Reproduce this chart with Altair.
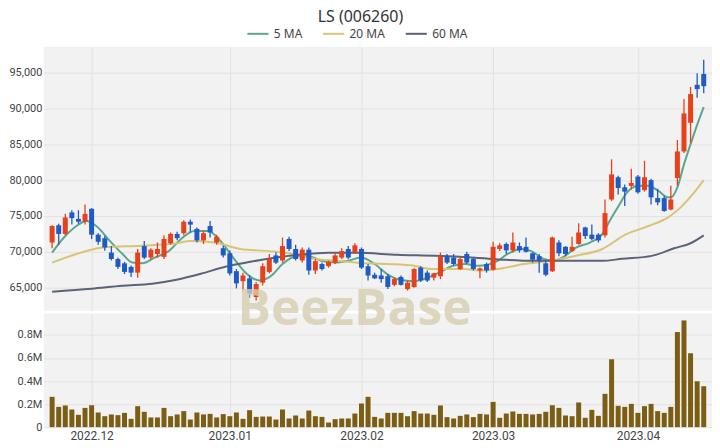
import altair as alt
import pandas as pd

TITLE = "LS (006260)"
WATERMARK = "BeezBase"

month_labels = ["2022.12", "2023.01", "2023.02", "2023.03", "2023.04"]
month_idx = [6, 27, 47, 67, 89]

opens = [71300, 73700, 72500, 75500, 74600, 74200, 76000, 72400, 71900, 69900,
         69000, 68400, 67900, 67100, 70800, 69200, 69700, 69300, 71200, 72500,
         72600, 74200, 73200, 71600, 73600, 71300, 70500, 69800, 67300, 65900,
         66300, 63700, 65700, 67200, 69500, 68800, 71800, 70400, 68800, 70300,
         67400, 68300, 68000, 68500, 69200, 70400, 69900, 70400, 68000, 66800,
         66700, 66600, 65400, 66500, 64800, 65100, 67800, 67100, 66400, 66600,
         69400, 69200, 67600, 69700, 69000, 67400, 68300, 67500, 70400, 71100,
         70200, 70800, 70700, 69800, 69400, 68400, 67300, 71300, 70700, 70100,
         71100, 73400, 72400, 72400, 72300, 77300, 80400, 79000, 79200, 80500,
         78600, 80000, 77500, 77500, 75900, 80300, 84000, 88000, 93300, 94800]
highs = [73700, 73900, 75300, 75800, 75800, 76600, 76100, 72600, 72200, 70800,
         69200, 68600, 68100, 70400, 71500, 70500, 71300, 72300, 72700, 72800,
         74400, 74500, 73400, 72900, 74300, 72400, 70900, 70200, 67600, 67100,
         66700, 65800, 68400, 69700, 69900, 72000, 72100, 71000, 70600, 70600,
         69000, 68500, 68750, 69800, 70500, 70800, 71200, 70600, 68300, 67100,
         67600, 66900, 66400, 66700, 66000, 67700, 68000, 67400, 67100, 69900,
         69700, 69700, 69300, 70000, 69200, 67800, 68500, 71400, 71200, 71300,
         72700, 71300, 72000, 69900, 69700, 68700, 72100, 71600, 70800, 72100,
         74000, 73500, 73800, 72600, 77300, 82900, 80600, 79400, 81600, 80700,
         82700, 80200, 78800, 77800, 79200, 85600, 91300, 93000, 94900, 96800]
lows = [70500, 71000, 72300, 73800, 73900, 73800, 71800, 71000, 70150, 68800,
        67600, 66900, 66500, 66400, 69000, 68900, 69200, 69000, 71000, 71600,
        72300, 72700, 71300, 71100, 72000, 71000, 69200, 66700, 64900, 64600,
        63600, 63200, 65300, 67000, 68300, 68500, 70100, 68800, 68500, 66800,
        66900, 67400, 67800, 68300, 69000, 69000, 69700, 67600, 66000, 66200,
        65700, 64800, 65200, 65300, 64600, 65000, 65800, 65800, 66000, 66200,
        68300, 68100, 67500, 68300, 67400, 66300, 67100, 67400, 70100, 69700,
        69900, 69900, 69900, 68500, 67100, 66600, 67200, 69400, 69400, 70000,
        71000, 71800, 71600, 71300, 72000, 77100, 78000, 76400, 78700, 78100,
        78400, 76600, 76500, 75600, 75800, 79200, 83800, 85200, 91500, 92100]
closes = [73600, 72500, 74800, 74700, 74200, 75300, 72400, 71400, 70600, 69000,
          67900, 67200, 67100, 69900, 69200, 70300, 70400, 71800, 72500, 71900,
          74200, 73800, 71600, 72600, 72700, 72100, 69500, 67000, 65600, 66700,
          64200, 65500, 68000, 69000, 68500, 70800, 70400, 69000, 70300, 67400,
          68700, 67600, 68600, 69500, 70100, 69200, 70900, 67800, 66700, 66300,
          66200, 65100, 66200, 65400, 65700, 67600, 66000, 66000, 67000, 69300,
          68500, 68300, 69000, 68500, 67600, 67700, 67400, 70700, 70900, 70200,
          71300, 70200, 70000, 68900, 68800, 66800, 72000, 69800, 69700, 70700,
          72700, 72200, 71800, 71600, 75400, 80800, 78900, 78400, 79600, 78300,
          80400, 77600, 76900, 75700, 77300, 84000, 89300, 92000, 92700, 93100]
volumes = [263000, 176000, 188000, 153000, 107000, 167000, 190000, 127000, 95000, 110000,
           104000, 124000, 72000, 182000, 133000, 84000, 84000, 167000, 95000, 110000,
           139000, 66000, 127000, 110000, 115000, 84000, 113000, 95000, 127000, 72000,
           147000, 89000, 92000, 92000, 66000, 153000, 75000, 101000, 75000, 144000,
           95000, 89000, 40000, 69000, 75000, 75000, 118000, 205000, 263000, 89000,
           75000, 124000, 124000, 124000, 95000, 139000, 118000, 118000, 107000, 188000,
           87000, 75000, 98000, 110000, 87000, 115000, 110000, 219000, 81000, 118000,
           136000, 115000, 115000, 110000, 115000, 133000, 190000, 167000, 101000, 95000,
           214000, 81000, 150000, 98000, 289000, 589000, 185000, 176000, 202000, 124000,
           182000, 202000, 139000, 124000, 176000, 825000, 926000, 641000, 398000, 355000]

ma5_i = [0, 1.8, 3.7, 5.2, 6.7, 8.8, 10.7, 12.2, 13.7, 15.6, 17.7, 19.6, 21.6, 23.7,
         25.6, 27.5, 29.6, 31.5, 33.2, 35.0, 37.1, 39.0, 40.9, 43.0, 44.9, 46.9, 49.0,
         50.9, 52.8, 54.9, 56.8, 58.8, 60.9, 62.8, 64.7, 67.7, 69.2, 71.3, 72.8, 74.7,
         76.2, 77.7, 79.6, 81.7, 83.6, 84.7, 86.2, 87.1, 88.1, 89.1, 90.6, 92.1, 93.6,
         94.0, 95.0, 96.0, 97.0, 98.0, 99.0]
ma5_v = [69900, 72000, 73600, 74300, 73600, 71500, 69700, 68500, 68400, 69200, 70100,
         71800, 72900, 72900, 71500, 69200, 66900, 66000, 66600, 68300, 69400, 69400,
         68750, 68500, 68750, 69200, 68300, 66900, 66100, 65900, 66300, 67100, 68050,
         68300, 68050, 68750, 69700, 70400, 70100, 69000, 68750, 69300, 70600, 71300,
         72500, 74300, 76600, 78000, 78900, 79200, 79200, 78500, 77600, 77600, 79000,
         82200, 85000, 87700, 90200]

ma20_i = [0, 3.7, 7.7, 13.7, 18.6, 21.1, 24.6, 28.6, 33.0, 36.0, 40.0, 43.0, 47.0,
          51.0, 55.0, 57.5, 62.5, 65.0, 68.0, 71.7, 75.7, 79.6, 83.6, 87.1, 90.6, 93.6,
          95.5, 97.3, 99.0]
ma20_v = [68500, 69700, 70600, 70850, 71150, 71500, 71300, 70400, 70100, 69800, 69000,
          68750, 68450, 68300, 68050, 67600, 67600, 67400, 67650, 68300, 68750, 69450,
          70400, 72400, 73600, 74800, 76200, 78000, 80000]

ma60_i = [0, 6, 10.7, 15.2, 18.9, 22.6, 26.3, 30.1, 33.8, 37.5, 42, 46.4, 52.4, 58.3,
          64.3, 68.8, 73.2, 79.2, 83.6, 86.6, 91.1, 94.5, 97.0, 99.0]
ma60_v = [64450, 64860, 65280, 65560, 66110, 66940, 67920, 68610, 69170, 69580, 69860,
          69860, 69580, 69440, 69170, 68890, 68750, 68750, 68750, 69030, 69440, 70500,
          71200, 72300]

ma_names = ["5 MA", "20 MA", "60 MA"]
ma_colors = ["#5ba68d", "#d8c474", "#5b6378"]
price_ticks = [65000, 70000, 75000, 80000, 85000, 90000, 95000]
vol_ticks = [0, 200000, 400000, 600000, 800000]

UP = "#e8401a"
DOWN = "#1f5bc6"
VOLC = "#7b5d14"
FONT = "Noto Sans"
AXFONT = "Roboto"

n = len(opens)
df = pd.DataFrame({"i": list(range(n)), "open": opens, "high": highs, "low": lows,
                   "close": closes, "volume": volumes})
ma_df = pd.concat([
    pd.DataFrame({"i": ma5_i, "v": ma5_v, "ma": ma_names[0], "o": 0}),
    pd.DataFrame({"i": ma20_i, "v": ma20_v, "ma": ma_names[1], "o": 1}),
    pd.DataFrame({"i": ma60_i, "v": ma60_v, "ma": ma_names[2], "o": 2}),
])

W = 671
xscale = alt.Scale(domain=[-0.5, n - 0.5], nice=False, zero=False)
label_expr = " : ".join(f"datum.value == {v} ? '{l}'" for v, l in zip(month_idx, month_labels)) + " : ''"

x_top = alt.X("i:Q", scale=xscale,
              axis=alt.Axis(values=month_idx, labels=False, ticks=False, domain=False,
                            grid=True, title=None))
pscale = alt.Scale(domain=[61800, 98600], nice=False, zero=False)
y_axis = alt.Axis(values=price_ticks, format=",d", title=None, ticks=False, domain=False,
                  labelPadding=2, grid=True)

cond_color = alt.condition("datum.close >= datum.open", alt.value(UP), alt.value(DOWN))

base = alt.Chart(df)
wicks = base.mark_rule(strokeWidth=1.3).encode(
    x=x_top, y=alt.Y("low:Q", scale=pscale, axis=y_axis), y2="high:Q", color=cond_color)
bodies = base.mark_bar(size=5).encode(
    x=x_top, y=alt.Y("open:Q", scale=pscale, axis=y_axis), y2="close:Q", color=cond_color)
mas = alt.Chart(ma_df).mark_line(strokeWidth=2, interpolate="monotone").encode(
    x=x_top,
    y=alt.Y("v:Q", scale=pscale, axis=y_axis),
    color=alt.Color("ma:N", scale=alt.Scale(domain=ma_names, range=ma_colors),
                    legend=alt.Legend(orient="none", legendX=203, legendY=-25,
                                      title=None, direction="horizontal",
                                      symbolType="stroke", symbolStrokeWidth=2,
                                      symbolSize=450, labelFontSize=12, labelFont=FONT,
                                      labelColor="#444", columnPadding=16,
                                      labelOffset=4)),
    order="o:Q",
)
price = alt.layer(mas, wicks, bodies).properties(width=W, height=265)

x_bot = alt.X("i:Q", scale=xscale,
              axis=alt.Axis(values=month_idx, labelExpr=label_expr, ticks=False,
                            domain=False, grid=True, title=None, labelPadding=3,
                            labelFontSize=12))
vbars = base.mark_bar(size=5, color=VOLC).encode(
    x=x_bot,
    y=alt.Y("volume:Q", scale=alt.Scale(domain=[0, 985000], nice=False),
            axis=alt.Axis(values=vol_ticks, title=None, ticks=False, domain=False,
                          labelPadding=2,
                          labelExpr="datum.value == 0 ? '0' : format(datum.value / 1000000, '.1f') + 'M'")),
)
wm = alt.Chart(pd.DataFrame({"t": [WATERMARK]})).mark_text(
    fontSize=50, fontWeight="bold", font="Open Sans", color="#d6cfb1", opacity=0.8,
    baseline="middle", align="center").encode(
    text="t:N", x=alt.value(312), y=alt.value(-4))
volume = alt.layer(vbars, wm).properties(width=W, height=114)

chart = alt.vconcat(price, volume, spacing=3, bounds="flush").properties(
    title=alt.TitleParams(TITLE, fontSize=16, font=FONT, fontWeight="normal",
                          color="#333", anchor="middle", offset=-3),
    padding={"left": 0, "top": 0, "right": 0, "bottom": 0},
).configure_view(fill="#f2f2f2", stroke=None).configure_axis(
    gridColor="#e2e2e2", labelFont=AXFONT, labelColor="#444", labelFontSize=11
)

chart.save("out.html", embed_options={"renderer": "svg", "actions": False})
